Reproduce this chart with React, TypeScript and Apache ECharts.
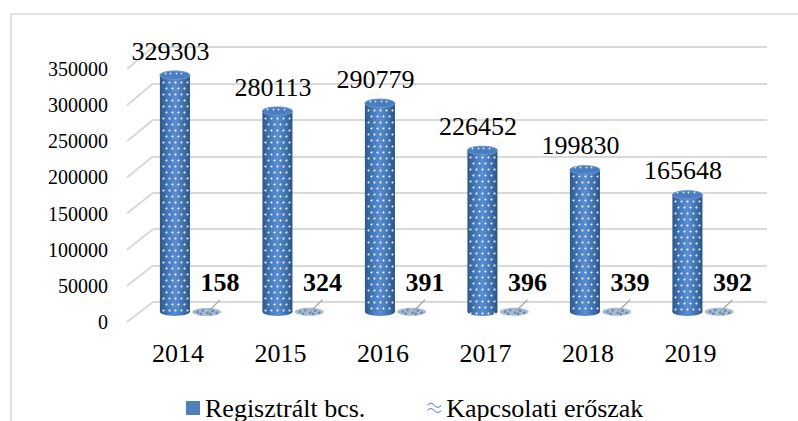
import React, { useEffect, useRef } from "react";
import * as echarts from "echarts";

const categories = ["2014", "2015", "2016", "2017", "2018", "2019"];
const registered = [329303, 280113, 290779, 226452, 199830, 165648];
const violence = [158, 324, 391, 396, 339, 392];
const seriesNames = ["Regisztrált bcs.", "Kapcsolati erőszak"];
const yMin = 0;
const yMax = 350000;
const yInterval = 50000;

const FONT = "Liberation Serif";

const BACK = { left: 153, right: 31, top: 47, bottom: 119 };
const FRONT_LABELS = { left: 127, top: 69, bottom: 99 };

// compound shape: a staggered grid of small dots inside a rectangle (snapped to pixel centres)
echarts.graphic.registerShape(
  "dotgrid",
  echarts.graphic.extendShape({
    shape: { x: 0, y: 0, width: 0, height: 0, step: 6, r: 0.9 },
    buildPath(ctx: any, shape: any) {
      const { x, y, width, height, step, r } = shape;
      let row = 0;
      for (let yy = y + 4; yy < y + height - 2; yy += step, row++) {
        const off = row % 2 === 0 ? 3.5 : 6.5;
        const py = Math.floor(yy) + 0.5;
        for (let xx = x + off; xx < x + width - 2; xx += step) {
          const px = Math.floor(xx) + 0.5;
          ctx.moveTo(px + r, py);
          ctx.arc(px, py, r, 0, Math.PI * 2);
        }
      }
    },
  }) as any
);

const bodyGradient = () =>
  new echarts.graphic.LinearGradient(0, 0, 1, 0, [
    { offset: 0, color: "#2c5788" },
    { offset: 0.25, color: "#4478b8" },
    { offset: 0.5, color: "#5a8ed2" },
    { offset: 0.8, color: "#3f70ad" },
    { offset: 1, color: "#2a5282" },
  ]);

function renderCylinder(params: any, api: any) {
  const idx = api.value(0);
  const v = api.value(1);
  const [cx, top] = api.coord([idx, v]);
  const base = api.coord([idx, 0])[1];
  const band = api.size([1, 0])[0];
  const w = band * 0.293;
  const bx = cx - band * 0.03;
  const x0 = bx - w / 2;
  const ry = 4.2;
  const children: any[] = [
    {
      type: "ellipse",
      z2: 1,
      shape: { cx: bx, cy: base - ry, rx: w / 2, ry },
      style: { fill: bodyGradient() },
    },
    {
      type: "rect",
      z2: 1,
      shape: { x: x0, y: top, width: w, height: base - ry - top },
      style: { fill: bodyGradient() },
    },
    {
      type: "dotgrid",
      z2: 5,
      silent: true,
      shape: { x: x0, y: top + 3, width: w, height: base - top - 3, step: 6, r: 1 },
      style: { fill: "#ffffff", opacity: 0.85 },
    },
    {
      type: "ellipse",
      z2: 6,
      shape: { cx: bx, cy: top, rx: w / 2, ry },
      style: { fill: "#4a7dbf", stroke: "#6a96d2", lineWidth: 1 },
    },
    {
      type: "dotgrid",
      z2: 7,
      silent: true,
      shape: { x: x0 + 2, y: top - 6, width: w - 3, height: 10, step: 5.5, r: 0.9 },
      style: { fill: "#ffffff", opacity: 0.8 },
    },
    {
      type: "text",
      z2: 8,
      x: cx - band * 0.073,
      y: top - 24,
      style: {
        text: String(v),
        fontSize: 26,
        fontFamily: FONT,
        fill: "#000000",
        align: "center",
        verticalAlign: "middle",
      },
    },
  ];
  return { type: "group", children };
}

function renderFlat(params: any, api: any) {
  const idx = api.value(0);
  const v = api.value(1);
  const [cx, vy] = api.coord([idx, v]);
  const band = api.size([1, 0])[0];
  const ex = cx + band * 0.28;
  const ey = vy - 4;
  const children: any[] = [];
  children.push({
    type: "ellipse",
    z2: 1,
    shape: { cx: ex, cy: ey, rx: 14.5, ry: 4 },
    style: { fill: "#a9bad0" },
  });
  const dots = [
    [-9, 0], [-4, -1.5], [1, 1], [6, -1], [10, 1], [-6, 2], [4, 2.2],
  ];
  dots.forEach(([dx, dy]) =>
    children.push({
      type: "circle",
      z2: 2,
      shape: { cx: ex + dx, cy: ey + dy, r: 1.3 },
      style: { fill: "#5f88bd" },
      silent: true,
    })
  );
  children.push({
    type: "line",
    z2: 3,
    shape: { x1: ex + 1, y1: ey, x2: cx + band * 0.41, y2: vy - 16 },
    style: { stroke: "#a6a6a6", lineWidth: 1.2 },
  });
  children.push({
    type: "text",
    z2: 4,
    x: cx + band * 0.41,
    y: vy - 33,
    style: {
      text: String(v),
      fontSize: 26,
      fontWeight: "bold",
      fontFamily: FONT,
      fill: "#000000",
      align: "center",
      verticalAlign: "middle",
    },
  });
  return { type: "group", children };
}

const wavePath =
  "path://M0,4 C3,1 5,1 8,4 C11,7 13,7 16,4 L16,5.6 C13,8.6 11,8.6 8,5.6 C5,2.6 3,2.6 0,5.6 Z M0,10 C3,7 5,7 8,10 C11,13 13,13 16,10 L16,11.6 C13,14.6 11,14.6 8,11.6 C5,8.6 3,8.6 0,11.6 Z";

export default function App() {
  const ref = useRef<HTMLDivElement>(null);
  useEffect(() => {
    if (!ref.current) return;
    const chart = echarts.init(ref.current, null, { renderer: "svg" });
    const option: any = {
      animation: false,
      backgroundColor: "#ffffff",
      grid: [
        { ...BACK },
        { left: 126.75, right: 56.25, top: 60, bottom: 105 },
        { left: FRONT_LABELS.left, right: 56, top: FRONT_LABELS.top, bottom: FRONT_LABELS.bottom },
      ],
      xAxis: [
        { gridIndex: 0, type: "category", data: categories, show: false },
        {
          gridIndex: 1,
          type: "category",
          data: categories,
          axisLine: { show: false },
          axisTick: { show: false },
          axisLabel: {
            margin: 24,
            fontSize: 26,
            fontFamily: FONT,
            color: "#000000",
          },
        },
        { gridIndex: 2, type: "category", data: categories, show: false },
      ],
      yAxis: [
        {
          gridIndex: 0,
          type: "value",
          min: yMin,
          max: yMax,
          interval: yInterval,
          axisLabel: { show: false },
          axisLine: { show: false },
          axisTick: { show: false },
          splitLine: { lineStyle: { color: "#d9d9d9", width: 2 } },
        },
        {
          gridIndex: 1,
          type: "value",
          min: yMin,
          max: yMax,
          interval: yInterval,
          show: false,
        },
        {
          gridIndex: 2,
          type: "value",
          min: yMin,
          max: yMax,
          interval: yInterval,
          axisLine: { show: false },
          axisTick: { show: false },
          splitLine: { show: false },
          axisLabel: {
            margin: 19,
            fontSize: 20,
            fontFamily: FONT,
            color: "#000000",
            formatter: (v: number) => String(v),
          },
        },
      ],
      legend: {
        left: 186,
        top: 395,
        itemGap: 62,
        itemWidth: 14,
        itemHeight: 14,
        padding: 0,
        textStyle: { fontSize: 26, lineHeight: 22, fontFamily: FONT, color: "#000000" },
        data: [
          { name: seriesNames[0], icon: "rect", itemStyle: { color: "#4f81bd" } },
          { name: seriesNames[1], icon: wavePath, itemStyle: { color: "#6a98d8" } },
        ],
      },
      series: [
        {
          name: seriesNames[0],
          type: "custom",
          xAxisIndex: 1,
          yAxisIndex: 1,
          itemStyle: { color: "#4f81bd" },
          renderItem: renderCylinder,
          encode: { x: 0, y: 1 },
          data: registered.map((v, i) => [i, v]),
          z: 3,
        },
        {
          name: seriesNames[1],
          type: "custom",
          xAxisIndex: 1,
          yAxisIndex: 1,
          itemStyle: { color: "#6a98d8" },
          renderItem: renderFlat,
          encode: { x: 0, y: 1 },
          data: violence.map((v, i) => [i, v]),
          z: 2,
        },
      ],
    };
    chart.setOption(option);

    const diagonals: any[] = [];
    for (let v = yMin; v <= yMax; v += yInterval) {
      const yFront = chart.convertToPixel({ yAxisIndex: 2 } as any, v) as number;
      const yBack = chart.convertToPixel({ yAxisIndex: 0 } as any, v) as number;
      diagonals.push({
        type: "line",
        silent: true,
        shape: { x1: FRONT_LABELS.left, y1: yFront, x2: BACK.left, y2: yBack },
        style: { stroke: "#d9d9d9", lineWidth: 2 },
        z: 1,
      });
    }
    chart.setOption({
      graphic: [
        {
          type: "rect",
          silent: true,
          shape: { x: 11, y: 14, width: 900, height: 500 },
          style: { fill: "none", stroke: "#d9d9d9", lineWidth: 1.5 },
          z: 0,
        },
        ...diagonals,
      ],
    });

    return () => chart.dispose();
  }, []);
  return (
    <div
      ref={ref}
      style={{ position: "fixed", left: 0, top: 0, width: 798, height: 421 }}
    />
  );
}
